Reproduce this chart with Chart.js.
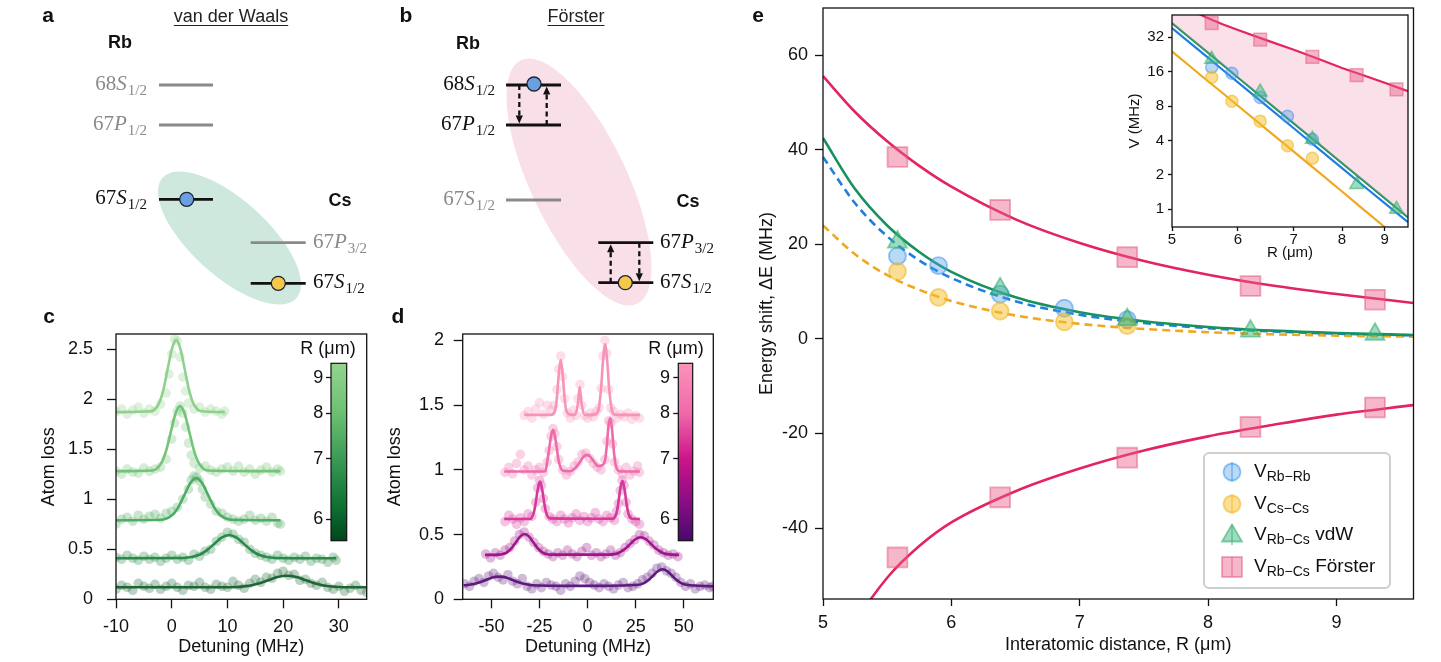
<!DOCTYPE html>
<html>
<head>
<meta charset="utf-8">
<script src="https://cdn.jsdelivr.net/npm/chart.js@4.4.1/dist/chart.umd.min.js"></script>
<style>
  html, body { margin:0; padding:0; background:#fff; }
  #wrap { position:relative; width:1441px; height:662px; overflow:hidden; background:#fff;
          font-family:'Liberation Sans', Arial, Helvetica, sans-serif; color:#111; }
  #wrap canvas { position:absolute; }
  .t { position:absolute; white-space:nowrap; line-height:1; }
  .panel { font-weight:bold; font-size:21px; }
  .head { font-size:18px; text-decoration:underline; text-decoration-thickness:1px; text-underline-offset:3px; color:#222; }
  .atom { font-weight:bold; font-size:18px; }
  .lvl { font-family:'Liberation Serif', 'DejaVu Serif', serif; font-size:21px; }
  .lvl i { font-style:italic; }
  .lvl .s { font-size:15px; position:relative; top:5px; margin-left:1px; }
  .gray { color:#8a8a8a; }
  .cbt { font-size:18px; }
  .leg { font-size:19px; }
  .leg .s { font-size:14px; position:relative; top:4px; }
  #legbox { position:absolute; left:1203px; top:452px; width:184px; height:133px; border:2px solid #cfcfcf;
            border-radius:6px; background:rgba(255,255,255,0.85); }
</style>
</head>
<body>
<div id="wrap"><div id="legbox"></div></div>
<script>
// ================= DATA =================
// ---- panel e (energy shifts) ----
const R_HOMO = [5.58, 5.9, 6.38, 6.88, 7.37];
const V_RBRB = [17.5, 15.5, 9.5, 6.5, 4.1];
const V_CSCS = [14.3, 8.8, 5.9, 3.6, 2.8];
const R_HETERO = [5.58, 6.38, 7.37, 8.33, 9.3];
const V_VDW = [20.5, 10.6, 4.1, 1.65, 1.0];
const E_FORSTER_UP = [38.5, 27.3, 17.3, 11.2, 8.3];
const E_FORSTER_DOWN = [-46.2, -33.5, -25.1, -18.6, -14.5];
const V_FORSTER = [42.5, 30.5, 21.5, 14.9, 11.2];
const FIT_R = [5, 5.25, 5.5, 5.75, 6, 6.5, 7, 7.5, 8, 8.5, 9, 9.6];
const FIT_RBRB = [38.5, 28.7, 21.7, 16.6, 12.9, 7.98, 5.11, 3.38, 2.29, 1.59, 1.13, 0.77];
const FIT_CSCS = [24, 17.9, 13.5, 10.4, 8.04, 4.97, 3.19, 2.11, 1.43, 0.99, 0.70, 0.48];
const FIT_VDW = [42.5, 31.7, 24.0, 18.4, 14.2, 8.8, 5.64, 3.73, 2.53, 1.76, 1.25, 0.85];
const FIT_F_UP = [55.6, 48.0, 41.8, 36.6, 32.2, 25.3, 20.3, 16.5, 13.6, 11.3, 9.5, 7.6];
const FIT_F_DOWN = [-72, -60, -50.5, -43.8, -38.8, -32.2, -27.4, -23.6, -20.6, -18.2, -16.0, -14.0];
const FIT_F_V = [66, 56, 47.5, 41.5, 37, 30, 24.8, 20.6, 17.2, 14.8, 12.8, 10.8];
const E_X_TICKS = [5, 6, 7, 8, 9];
const E_Y_TICKS = [-40, -20, 0, 20, 40, 60];
const INSET_X_TICKS = [5, 6, 7, 8, 9];
const INSET_Y_TICKS = [1, 2, 4, 8, 16, 32];

// ---- panel c (van der Waals spectra) ----
const C1_X = [-10,-9,-8,-7,-6,-5,-4,-3,-2,-1,-0.5,0,0.5,1,1.5,2,2.5,3,4,5,6,7,8,9,9.5];
const C1_Y = [1.87,1.9,1.85,1.89,1.92,1.86,1.9,1.88,1.95,2.06,2.25,2.45,2.6,2.58,2.42,2.22,2.08,1.96,1.9,1.92,1.87,1.9,1.88,1.85,1.88];
const C1_FIT_X = [-10,-3.7,-2.2,-1.45,-0.7,0.05,0.8,1.55,2.3,3.05,3.8,5.3,9.5];
const C1_FIT_Y = [1.87,1.878,1.967,2.104,2.307,2.505,2.59,2.505,2.307,2.104,1.967,1.878,1.87];
const C2_X = [-10,-9,-8,-7,-6,-5,-4,-3,-2,-1,0,0.5,1,1.5,2,2.5,3,3.5,4,5,6,7,8,9,10,11,12,13,14,15,16,17,18,19,19.5];
const C2_Y = [1.28,1.25,1.3,1.27,1.26,1.31,1.28,1.3,1.32,1.4,1.6,1.76,1.88,1.93,1.86,1.72,1.56,1.44,1.36,1.31,1.33,1.29,1.27,1.3,1.32,1.28,1.33,1.27,1.3,1.25,1.29,1.32,1.27,1.3,1.28];
const C2_FIT_X = [-10,-3.45,-1.8,-0.975,-0.15,0.675,1.5,2.325,3.15,3.975,4.8,6.45,19.5];
const C2_FIT_Y = [1.28,1.287,1.368,1.491,1.674,1.854,1.93,1.854,1.674,1.491,1.368,1.287,1.28];
const C3_X = [-10,-9,-8,-7,-6,-5,-4,-3,-2,-1,0,1,2,3,3.5,4,4.5,5,5.5,6,7,8,9,10,11,12,13,14,15,16,17,18,19,19.5];
const C3_Y = [0.75,0.8,0.82,0.78,0.84,0.8,0.83,0.85,0.81,0.86,0.88,0.92,1.0,1.1,1.19,1.23,1.22,1.18,1.1,1.02,0.95,0.88,0.86,0.82,0.8,0.78,0.8,0.84,0.79,0.81,0.78,0.82,0.76,0.75];
const C3_FIT_X = [-10,-1.9,0.2,1.25,2.3,3.35,4.4,5.45,6.5,7.55,8.6,10.7,19.5];
const C3_FIT_Y = [0.79,0.795,0.847,0.926,1.045,1.161,1.21,1.161,1.045,0.926,0.847,0.795,0.79];
const C4_X = [-10,-9,-8,-7,-6,-5,-4,-3,-2,-1,0,1,2,3,4,5,6,7,8,9,10,11,12,13,14,15,16,17,18,19,20,21,22,23,24,25,26,27,28,29,29.5];
const C4_Y = [0.42,0.4,0.44,0.41,0.39,0.43,0.4,0.42,0.38,0.41,0.44,0.4,0.42,0.39,0.45,0.43,0.48,0.5,0.58,0.62,0.67,0.65,0.6,0.57,0.5,0.46,0.44,0.42,0.4,0.44,0.41,0.39,0.42,0.4,0.43,0.38,0.41,0.4,0.37,0.42,0.39];
const C4_FIT_X = [-10,2.14,4.86,6.22,7.58,8.94,10.3,11.66,13.02,14.38,15.74,18.46,29.5];
const C4_FIT_Y = [0.41,0.413,0.442,0.486,0.551,0.616,0.643,0.616,0.551,0.486,0.442,0.413,0.41];
const C5_X = [-10,-9,-8,-7,-6,-5,-4,-3,-2,-1,0,1,2,3,4,5,6,7,8,9,10,11,12,13,14,15,16,17,18,19,20,21,22,23,24,25,26,27,28,29,30,31,32,33,34,35];
const C5_Y = [0.1,0.14,0.12,0.09,0.16,0.13,0.11,0.15,0.1,0.13,0.16,0.12,0.09,0.14,0.13,0.17,0.12,0.1,0.15,0.13,0.12,0.18,0.14,0.11,0.16,0.2,0.17,0.22,0.21,0.26,0.28,0.24,0.25,0.19,0.2,0.16,0.14,0.17,0.12,0.1,0.13,0.08,0.11,0.14,0.09,0.07];
const C5_FIT_X = [-10,10.5,13.9,15.6,17.3,19.0,20.7,22.4,24.1,25.8,27.5,30.9,35];
const C5_FIT_Y = [0.12,0.121,0.136,0.157,0.19,0.222,0.235,0.222,0.19,0.157,0.136,0.121,0.12];
const C_X_TICKS = [-10, 0, 10, 20, 30];
const C_Y_TICKS = [0, 0.5, 1, 1.5, 2, 2.5];

// ---- panel d (Förster spectra) ----
const D1_X = [-33,-31,-29,-27,-25,-23,-21,-19,-17.5,-16,-15,-14,-13,-12,-10.5,-9,-7.5,-6,-5,-4,-3,-1.5,0,1.5,3,4.5,6,7,8,9,10,11,12,13.5,15,17,19,21,23,25,27];
const D1_Y = [1.42,1.45,1.40,1.47,1.52,1.43,1.50,1.46,1.50,1.62,1.78,1.88,1.72,1.55,1.44,1.40,1.46,1.42,1.55,1.66,1.50,1.42,1.40,1.44,1.41,1.45,1.48,1.63,1.88,2.0,1.9,1.62,1.48,1.45,1.40,1.43,1.41,1.44,1.39,1.42,1.40];
const D1_FIT_X = [-33,-19,-17,-16,-15,-14,-13,-12,-11,-9,-6.5,-5,-4.1,-3.2,-1.5,3,5.5,7,8,9.1,10.2,11.2,13,15,27.2];
const D1_FIT_Y = [1.425,1.425,1.455,1.555,1.741,1.85,1.741,1.555,1.455,1.427,1.425,1.519,1.64,1.519,1.425,1.425,1.455,1.629,1.842,1.97,1.842,1.629,1.443,1.425,1.425];
const D2_X = [-43,-41,-39,-37,-35,-33,-31,-29,-27,-25,-23,-21,-20,-19,-18,-17,-16,-15,-13,-11,-9,-7,-5,-3,-1,1,3,5,7,9,10,11,12,13,14,16,18,20,22,24,26,27];
const D2_Y = [0.98,1.02,0.97,1.05,1.12,1.0,1.03,0.96,1.0,1.02,0.98,1.06,1.15,1.26,1.32,1.28,1.18,1.08,1.0,0.96,0.99,1.03,1.06,1.12,1.13,1.09,1.05,1.02,1.0,1.08,1.22,1.38,1.36,1.2,1.06,1.0,0.97,1.02,0.96,0.99,1.03,0.98];
const D2_FIT_X = [-43.4,-25,-22,-21,-20,-19,-18,-17,-16,-15,-13,-9,-6,-4,-2,-0.3,1.5,3.5,5.5,8,9,10,10.8,11.7,12.6,13.5,14.5,16.5,27.2];
const D2_FIT_Y = [0.987,0.987,0.99,1.067,1.162,1.264,1.31,1.264,1.162,1.067,0.995,0.99,1.022,1.061,1.103,1.116,1.101,1.059,1.03,1.04,1.07,1.19,1.33,1.40,1.33,1.17,1.045,0.99,0.987];
const D3_X = [-43,-41,-39,-37,-35,-33,-31,-29,-27,-26,-25,-24,-23,-22,-20,-18,-16,-14,-12,-10,-8,-6,-4,-2,0,2,4,6,8,10,12,14,15,16,17,18,19,20,21,23,25,27];
const D3_Y = [0.6,0.65,0.62,0.58,0.63,0.6,0.66,0.64,0.75,0.86,0.92,0.88,0.78,0.7,0.64,0.62,0.6,0.65,0.62,0.59,0.63,0.66,0.61,0.64,0.6,0.63,0.67,0.62,0.6,0.65,0.63,0.61,0.68,0.74,0.84,0.92,0.88,0.75,0.66,0.62,0.6,0.58];
const D3_FIT_X = [-43.4,-30,-28,-27,-26,-24.8,-23.6,-22.6,-21.6,-19.5,13,14.8,15.8,17,18.1,19.2,20.4,21.4,23.2,27.2];
const D3_FIT_Y = [0.62,0.62,0.67,0.746,0.846,0.91,0.846,0.746,0.67,0.625,0.622,0.655,0.725,0.853,0.915,0.853,0.725,0.655,0.622,0.62];
const D4_X = [-53,-50.5,-48,-45.5,-43,-40.5,-38,-35.5,-33,-30.5,-28,-25.5,-23,-20.5,-18,-15.5,-13,-10.5,-8,-5.5,-3,-0.5,2,4.5,7,9.5,12,14.5,17,19.5,22,24.5,27,29.5,32,34.5,37,39.5,42,44.5,47];
const D4_Y = [0.35,0.32,0.36,0.34,0.38,0.40,0.45,0.5,0.52,0.48,0.44,0.4,0.37,0.35,0.33,0.36,0.34,0.38,0.35,0.33,0.37,0.4,0.34,0.36,0.33,0.35,0.38,0.34,0.36,0.4,0.43,0.46,0.5,0.49,0.45,0.42,0.38,0.36,0.34,0.35,0.33];
const D4_FIT_X = [-53.4,-46.3,-44.05,-41.8,-39.55,-37.3,-35.05,-32.8,-30.55,-28.3,-26.05,-23.8,-21.55,-19.3,11.1,13.85,16.6,19.35,22.1,24.85,27.6,30.35,33.1,35.85,38.6,41.35,44.1,47.6];
const D4_FIT_Y = [0.343,0.345,0.350,0.365,0.396,0.441,0.486,0.505,0.486,0.441,0.396,0.365,0.350,0.345,0.345,0.349,0.362,0.388,0.426,0.464,0.48,0.464,0.426,0.388,0.362,0.349,0.345,0.343];
const D5_X = [-64,-61.5,-59,-56.5,-54,-51.5,-49,-46.5,-44,-41.5,-39,-36.5,-34,-31.5,-29,-26.5,-24,-21.5,-19,-16.5,-14,-11.5,-9,-6.5,-4,-1.5,1,3.5,6,8.5,11,13.5,16,18.5,21,23.5,26,28.5,31,33.5,36,38.5,41,43.5,46,48.5,51,53.5,56,58.5,61,63.5,65];
const D5_Y = [0.12,0.1,0.14,0.16,0.13,0.18,0.2,0.17,0.15,0.19,0.14,0.12,0.16,0.1,0.08,0.12,0.09,0.13,0.11,0.1,0.07,0.12,0.1,0.14,0.18,0.16,0.13,0.11,0.09,0.12,0.1,0.08,0.11,0.13,0.09,0.1,0.12,0.15,0.17,0.2,0.24,0.25,0.22,0.2,0.17,0.13,0.1,0.12,0.08,0.1,0.11,0.09,0.1];
const D5_FIT_X = [-64.5,-63.5,-60,-56.5,-53,-49.5,-46,-42.5,-39,-35.5,-32,-28.5,0,26.5,29,31.5,34,36.5,39,41.5,44,46.5,49,51.5,65.2];
const D5_FIT_Y = [0.108,0.109,0.116,0.129,0.149,0.168,0.175,0.168,0.149,0.129,0.116,0.109,0.104,0.112,0.123,0.147,0.182,0.217,0.232,0.217,0.182,0.147,0.123,0.112,0.1];
const D_X_TICKS = [-50, -25, 0, 25, 50];
const D_Y_TICKS = [0, 0.5, 1, 1.5, 2];

// ---- colour bars (R in µm) ----
const CB_TICKS = [6, 7, 8, 9];
const CB_R_MIN = 5.71, CB_R_MAX = 9.49;

// ---- level schemes (a, b), diagram units ----
const A_RB_E = [8.5, 12.5, 19.93], A_CS_E = [24.27, 28.33];
const B_RB_E = [8.5, 12.5, 20.0],  B_CS_E = [24.27, 28.27];

// ================= HELPERS =================
Chart.defaults.font.family = "'Liberation Sans', Arial, Helvetica, sans-serif";
Chart.defaults.color = '#111';
Chart.defaults.animation = false;
Chart.defaults.plugins.legend.display = false;
Chart.defaults.plugins.tooltip.enabled = false;
Chart.defaults.layout.autoPadding = false;

const wrap = document.getElementById('wrap');
function addCanvas(left, top, w, h) {
  const c = document.createElement('canvas');
  c.width = w; c.height = h;
  c.style.left = left + 'px'; c.style.top = top + 'px';
  c.style.width = w + 'px'; c.style.height = h + 'px';
  wrap.appendChild(c);
  return c;
}
function addText(html, x, y, anchor, cls) {
  const d = document.createElement('div');
  d.className = 't ' + (cls || '');
  d.innerHTML = html;
  d.style.left = x + 'px'; d.style.top = y + 'px';
  const tx = anchor === 'left' ? '0' : anchor === 'right' ? '-100%' : '-50%';
  d.style.transform = 'translate(' + tx + ', -50%)';
  wrap.appendChild(d);
  return d;
}
const pts = (xs, ys) => xs.map((x, i) => ({ x: x, y: ys[i] }));
function rgba(hex, a) {
  const n = parseInt(hex.slice(1), 16);
  return 'rgba(' + (n >> 16 & 255) + ',' + (n >> 8 & 255) + ',' + (n & 255) + ',' + a + ')';
}
const fixW = w => s => { s.width = w; s.paddingTop = 0; s.paddingBottom = 0; };
const fixH = h => s => { s.height = h; s.paddingLeft = 0; s.paddingRight = 0; };
const setTicks = arr => s => { s.ticks = arr.map(v => ({ value: v })); };
const gridCfg = len => ({ display: true, drawOnChartArea: false, drawTicks: true, tickLength: len,
                          tickColor: '#111', tickWidth: 1.3, color: '#111' });
const framePlugin = {
  id: 'frame',
  beforeDraw(chart, args, opts) {
    if (!opts || !opts.white) return;
    const { ctx, chartArea: a } = chart;
    ctx.save(); ctx.fillStyle = '#fff';
    ctx.fillRect(a.left, a.top, a.right - a.left, a.bottom - a.top); ctx.restore();
  },
  afterDraw(chart, args, opts) {
    if (!opts || !opts.on) return;
    const { ctx, chartArea: a } = chart;
    ctx.save(); ctx.strokeStyle = '#111'; ctx.lineWidth = opts.lw || 1.3;
    ctx.strokeRect(a.left, a.top, a.right - a.left, a.bottom - a.top); ctx.restore();
  }
};

// ================= PANELS a, b (level schemes) =================
(function () {
  const cv = addCanvas(0, 0, 740, 310);
  const GRAY = '#8a8a8a', BLACK = '#111';
  const ds = [];
  ds.push({ data: [{ x: 18.67, y: A_RB_E[2] }, { x: 53.4, y: B_RB_E[0] - 0.1 }], pointRadius: 7,
            backgroundColor: '#6b9fe0', borderColor: '#1b2433', borderWidth: 1.3, showLine: false });
  ds.push({ data: [{ x: 27.83, y: A_CS_E[1] }, { x: 62.53, y: B_CS_E[1] }], pointRadius: 7,
            backgroundColor: '#f6c84a', borderColor: '#1b2433', borderWidth: 1.3, showLine: false });
  const lvl = (x0, x1, y, col) => ds.push({ data: [{ x: x0, y: y }, { x: x1, y: y }], showLine: true,
                                            borderColor: col, borderWidth: 2.8, pointRadius: 0 });
  lvl(15.9, 21.3, A_RB_E[0], GRAY); lvl(15.9, 21.3, A_RB_E[1], GRAY); lvl(15.9, 21.3, A_RB_E[2], BLACK);
  lvl(25.07, 30.57, A_CS_E[0], GRAY); lvl(25.07, 30.57, A_CS_E[1], BLACK);
  lvl(50.6, 56.1, B_RB_E[0], BLACK); lvl(50.6, 56.1, B_RB_E[1], BLACK); lvl(50.6, 56.1, B_RB_E[2], GRAY);
  lvl(59.83, 65.33, B_CS_E[0], BLACK); lvl(59.83, 65.33, B_CS_E[1], BLACK);

  const ellipses = [
    { cx: 22.95, cy: 23.8, a: 9.0, b: 3.8, rot: 42, col: '#cee8dd' },
    { cx: 57.9, cy: 18.2, a: 13.5, b: 4.8, rot: 64.5, col: '#f9dfe7' }
  ];
  const arrows = [
    [51.93, B_RB_E[0], B_RB_E[1]], [54.67, B_RB_E[1], B_RB_E[0]],
    [61.07, B_CS_E[1], B_CS_E[0]], [63.93, B_CS_E[0], B_CS_E[1]]
  ];
  const deco = {
    id: 'deco',
    beforeDatasetsDraw(chart) {
      const { ctx, scales: { x, y } } = chart;
      ctx.save();
      ellipses.forEach(e => {
        const cx = x.getPixelForValue(e.cx), cy = y.getPixelForValue(e.cy);
        const rx = x.getPixelForValue(e.a) - x.getPixelForValue(0);
        const ry = x.getPixelForValue(e.b) - x.getPixelForValue(0);
        ctx.beginPath(); ctx.ellipse(cx, cy, rx, ry, e.rot * Math.PI / 180, 0, 2 * Math.PI);
        ctx.fillStyle = e.col; ctx.fill();
      });
      ctx.restore();
    },
    afterDatasetsDraw(chart) {
      const { ctx, scales: { x, y } } = chart;
      ctx.save();
      arrows.forEach(a => {
        const px = x.getPixelForValue(a[0]);
        const y0 = y.getPixelForValue(a[1]), y1 = y.getPixelForValue(a[2]);
        const dir = Math.sign(y1 - y0);
        const tip = y1 - dir * 1.5, base = tip - dir * 8;
        ctx.setLineDash([5, 3.5]); ctx.lineWidth = 2.3; ctx.strokeStyle = '#111';
        ctx.beginPath(); ctx.moveTo(px, y0); ctx.lineTo(px, base); ctx.stroke();
        ctx.setLineDash([]); ctx.fillStyle = '#111';
        ctx.beginPath(); ctx.moveTo(px, tip); ctx.lineTo(px - 3.6, base); ctx.lineTo(px + 3.6, base);
        ctx.closePath(); ctx.fill();
      });
      ctx.restore();
    }
  };
  new Chart(cv, {
    type: 'scatter', data: { datasets: ds },
    options: { responsive: false, layout: { padding: 0 },
      scales: { x: { type: 'linear', min: 0, max: 74, display: false },
                y: { type: 'linear', min: 0, max: 31, reverse: true, display: false } } },
    plugins: [deco]
  });
  const lv = (n, l, s) => n + '<i>' + l + '</i><span class="s">' + s + '</span>';
  addText('a', 48, 14, 'center', 'panel');
  addText('b', 406, 14, 'center', 'panel');
  addText('van der Waals', 231, 16, 'center', 'head');
  addText('Förster', 576, 16, 'center', 'head');
  addText('Rb', 120, 42, 'center', 'atom');
  addText('Rb', 468, 43, 'center', 'atom');
  addText('Cs', 340, 200, 'center', 'atom');
  addText('Cs', 688, 201, 'center', 'atom');
  addText(lv('68', 'S', '1/2'), 147, 83, 'right', 'lvl gray');
  addText(lv('67', 'P', '1/2'), 147, 123, 'right', 'lvl gray');
  addText(lv('67', 'S', '1/2'), 147, 197, 'right', 'lvl');
  addText(lv('67', 'P', '3/2'), 313, 241, 'left', 'lvl gray');
  addText(lv('67', 'S', '1/2'), 313, 281, 'left', 'lvl');
  addText(lv('68', 'S', '1/2'), 495, 83, 'right', 'lvl');
  addText(lv('67', 'P', '1/2'), 495, 123, 'right', 'lvl');
  addText(lv('67', 'S', '1/2'), 495, 198, 'right', 'lvl gray');
  addText(lv('67', 'P', '3/2'), 660, 241, 'left', 'lvl');
  addText(lv('67', 'S', '1/2'), 660, 281, 'left', 'lvl');
})();

// ================= PANELS c, d (spectra) =================
function spectrum(box, cfg) {
  const cv = addCanvas(box.left, box.top, box.w, box.h);
  const ds = [];
  cfg.fits.forEach((f, i) => ds.push({ data: pts(f[0], f[1]), showLine: true, pointRadius: 0,
    borderColor: cfg.colors[i], borderWidth: 2.6, cubicInterpolationMode: 'monotone', order: 0 }));
  cfg.scans.forEach((s, i) => ds.push({ data: pts(s[0], s[1]), showLine: false, pointRadius: 4.8,
    backgroundColor: rgba(cfg.colors[i], 0.3), borderColor: rgba(cfg.colors[i], 0.3), borderWidth: 0, order: 1 }));
  const font = { size: 18 };
  new Chart(cv, {
    type: 'scatter', data: { datasets: ds },
    options: {
      responsive: false,
      layout: { padding: { left: 0, right: box.pr, top: box.pt, bottom: 0 } },
      plugins: { frame: { on: true } },
      scales: {
        x: { type: 'linear', min: cfg.xmin, max: cfg.xmax, afterBuildTicks: setTicks(cfg.xticks),
             afterFit: fixH(box.xh), grid: gridCfg(9), border: { display: false },
             ticks: { font: font, padding: 8, maxRotation: 0, autoSkip: false, callback: v => String(v) },
             title: { display: true, text: 'Detuning (MHz)', font: font, padding: { top: 0, bottom: 4 } } },
        y: { type: 'linear', min: 0, max: cfg.ymax, afterBuildTicks: setTicks(cfg.yticks),
             afterFit: fixW(box.yw), grid: gridCfg(9), border: { display: false },
             ticks: { font: font, padding: box.ypad, autoSkip: false, callback: v => String(v) },
             title: { display: true, text: 'Atom loss', font: font, padding: { top: box.ytp, bottom: 0 } } }
      }
    },
    plugins: [framePlugin]
  });
}
function colorbar(box, stops) {
  const cv = addCanvas(box.left, box.top, box.w, box.h);
  const grad = {
    id: 'grad',
    afterDraw(chart) {
      const { ctx, chartArea: a } = chart;
      const g = ctx.createLinearGradient(0, a.top, 0, a.bottom);
      stops.forEach(s => g.addColorStop(s[0], s[1]));
      ctx.save(); ctx.fillStyle = g; ctx.fillRect(a.left, a.top, a.right - a.left, a.bottom - a.top);
      ctx.strokeStyle = '#111'; ctx.lineWidth = 1.2;
      ctx.strokeRect(a.left, a.top, a.right - a.left, a.bottom - a.top); ctx.restore();
    }
  };
  new Chart(cv, {
    type: 'scatter', data: { datasets: [] },
    options: {
      responsive: false,
      layout: { padding: { left: 0, right: box.pr, top: box.pt, bottom: box.pb } },
      scales: {
        x: { type: 'linear', display: false, min: 0, max: 1 },
        y: { type: 'linear', min: 1 / CB_R_MAX, max: 1 / CB_R_MIN, reverse: true,
             afterBuildTicks: s => { s.ticks = CB_TICKS.map(r => ({ value: 1 / r })); },
             afterFit: fixW(box.yw), grid: gridCfg(5), border: { display: false },
             ticks: { font: { size: 18 }, padding: box.ypad, autoSkip: false, callback: v => String(Math.round(1 / v)) } }
      }
    },
    plugins: [grad]
  });
}

const C_COLORS = ['#8fd18c', '#74c478', '#4ead63', '#2a8a4a', '#1e6636'];
spectrum({ left: 30, top: 320, w: 345, h: 342, pr: 8.3, pt: 14, xh: 62.7, yw: 86, ypad: 14, ytp: 8 }, {
  xmin: -10, xmax: 35, ymax: 2.65, xticks: C_X_TICKS, yticks: C_Y_TICKS, colors: C_COLORS,
  fits: [[C1_FIT_X, C1_FIT_Y], [C2_FIT_X, C2_FIT_Y], [C3_FIT_X, C3_FIT_Y], [C4_FIT_X, C4_FIT_Y], [C5_FIT_X, C5_FIT_Y]],
  scans: [[C1_X, C1_Y], [C2_X, C2_Y], [C3_X, C3_Y], [C4_X, C4_Y], [C5_X, C5_Y]]
});
const D_COLORS = ['#f793b9', '#f06aa9', '#d8379b', '#a0168a', '#5f1a7e'];
spectrum({ left: 377, top: 320, w: 345, h: 342, pr: 8.7, pt: 14, xh: 62.7, yw: 85.7, ypad: 9.7, ytp: 7.7 }, {
  xmin: -65, xmax: 65.4, ymax: 2.05, xticks: D_X_TICKS, yticks: D_Y_TICKS, colors: D_COLORS,
  fits: [[D1_FIT_X, D1_FIT_Y], [D2_FIT_X, D2_FIT_Y], [D3_FIT_X, D3_FIT_Y], [D4_FIT_X, D4_FIT_Y], [D5_FIT_X, D5_FIT_Y]],
  scans: [[D1_X, D1_Y], [D2_X, D2_Y], [D3_X, D3_Y], [D4_X, D4_Y], [D5_X, D5_Y]]
});
colorbar({ left: 300, top: 355, w: 50, h: 190, pr: 3.3, pt: 8.3, pb: 4.3, yw: 31, ypad: 2.7 },
  [[0, '#93d48f'], [0.28, '#6cc072'], [0.54, '#3a9a55'], [0.8, '#0f7233'], [1, '#00461c']]);
colorbar({ left: 647, top: 355, w: 50, h: 190, pr: 4.3, pt: 8.3, pb: 4.3, yw: 31.3, ypad: 3.3 },
  [[0, '#fa93bb'], [0.28, '#f069aa'], [0.54, '#cc1489'], [0.78, '#8a0d84'], [1, '#470a6e']]);
addText('c', 49, 315, 'center', 'panel');
addText('d', 398, 315, 'center', 'panel');
addText('R (μm)', 328, 348, 'center', 'cbt');
addText('R (μm)', 676, 348, 'center', 'cbt');

// ================= PANEL e =================
const BLUE = '#1f7fe0', YEL = '#f0a820', GRN = '#17925e', PINK = '#e3245e';
const MK = {
  blue: { bg: 'rgba(80,160,235,0.40)', bd: 'rgba(60,150,235,0.55)' },
  yel:  { bg: 'rgba(245,190,40,0.50)', bd: 'rgba(240,180,30,0.55)' },
  grn:  { bg: 'rgba(60,185,125,0.50)', bd: 'rgba(50,170,110,0.55)' },
  pink: { bg: 'rgba(232,95,135,0.45)', bd: 'rgba(225,85,125,0.50)' }
};
(function () {
  const cv = addCanvas(740, 0, 701, 662);
  const line = (ys, col, dash) => ({ data: pts(FIT_R, ys), showLine: true, pointRadius: 0, borderColor: col,
    borderWidth: 2.6, borderDash: dash || [], cubicInterpolationMode: 'monotone', order: 2 });
  const mark = (xs, ys, m, style, r) => ({ data: pts(xs, ys), showLine: false, pointStyle: style, pointRadius: r,
    backgroundColor: m.bg, borderColor: m.bd, borderWidth: 1.8, order: 1 });
  const font = { size: 18 };
  new Chart(cv, {
    type: 'scatter',
    data: { datasets: [
      line(FIT_F_UP, PINK), line(FIT_F_DOWN, PINK), line(FIT_VDW, GRN),
      line(FIT_RBRB, BLUE, [8, 5]), line(FIT_CSCS, YEL, [8, 5]),
      mark(R_HETERO, E_FORSTER_UP, MK.pink, 'rect', 14), mark(R_HETERO, E_FORSTER_DOWN, MK.pink, 'rect', 14),
      mark(R_HETERO, V_VDW, MK.grn, 'triangle', 11),
      mark(R_HOMO, V_CSCS, MK.yel, 'circle', 8.5), mark(R_HOMO, V_RBRB, MK.blue, 'circle', 8.5)
    ] },
    options: {
      responsive: false,
      layout: { padding: { left: 0, right: 27.5, top: 8, bottom: 0 } },
      plugins: { frame: { on: true } },
      scales: {
        x: { type: 'linear', min: 5, max: 9.6, afterBuildTicks: setTicks(E_X_TICKS), afterFit: fixH(63),
             grid: gridCfg(7), border: { display: false },
             ticks: { font: font, padding: 6, maxRotation: 0, autoSkip: false, callback: v => String(v) },
             title: { display: true, text: 'Interatomic distance, R (μm)', font: font, padding: { top: 0, bottom: 6 } } },
        y: { type: 'linear', min: -55, max: 70, afterBuildTicks: setTicks(E_Y_TICKS), afterFit: fixW(83),
             grid: gridCfg(8), border: { display: false },
             ticks: { font: font, padding: 7, autoSkip: false, callback: v => String(v) },
             title: { display: true, text: 'Energy shift, ΔE (MHz)', font: font, padding: { top: 16, bottom: 0 } } }
      }
    },
    plugins: [framePlugin]
  });
})();

// inset
(function () {
  const cv = addCanvas(1110, 0, 331, 280);
  const line = (ys, col, extra) => Object.assign({ data: pts(FIT_R, ys), showLine: true, pointRadius: 0,
    borderColor: col, borderWidth: 2.2, order: 2 }, extra || {});
  const mark = (xs, ys, m, style, r) => ({ data: pts(xs, ys), showLine: false, pointStyle: style, pointRadius: r,
    backgroundColor: m.bg, borderColor: m.bd, borderWidth: 1.5, order: 1 });
  const font = { size: 15 };
  new Chart(cv, {
    type: 'scatter',
    data: { datasets: [
      line(FIT_F_V, PINK, { fill: 1, backgroundColor: 'rgba(240,160,188,0.32)' }),
      line(FIT_VDW, GRN),
      line(FIT_RBRB, BLUE),
      line(FIT_CSCS, YEL),
      mark(R_HETERO, V_FORSTER, MK.pink, 'rect', 9),
      mark(R_HETERO, V_VDW, MK.grn, 'triangle', 8),
      mark(R_HOMO, V_CSCS, MK.yel, 'circle', 6),
      mark(R_HOMO, V_RBRB, MK.blue, 'circle', 6)
    ] },
    options: {
      responsive: false,
      layout: { padding: { left: 0, right: 33, top: 15, bottom: 0 } },
      plugins: { frame: { on: true, white: true }, filler: { propagate: false } },
      scales: {
        x: { type: 'logarithmic', min: 5, max: 9.6, afterBuildTicks: setTicks(INSET_X_TICKS), afterFit: fixH(53),
             grid: gridCfg(4), border: { display: false },
             ticks: { font: font, padding: 0, maxRotation: 0, autoSkip: false, callback: v => String(v) },
             title: { display: true, text: 'R (μm)', font: font, padding: { top: 0, bottom: 18 } } },
        y: { type: 'logarithmic', min: 0.7, max: 50, afterBuildTicks: setTicks(INSET_Y_TICKS), afterFit: fixW(62),
             grid: gridCfg(4), border: { display: false },
             ticks: { font: font, padding: 4, autoSkip: false, callback: v => String(v) },
             title: { display: true, text: 'V (MHz)', font: font, padding: { top: 16, bottom: 0 } } }
      }
    },
    plugins: [framePlugin]
  });
})();

addText('e', 758, 14, 'center', 'panel');

// legend of panel e
(function () {
  const items = [
    { y: 472, html: 'V<span class="s">Rb−Rb</span>', m: MK.blue, shape: 'circle' },
    { y: 503.5, html: 'V<span class="s">Cs−Cs</span>', m: MK.yel, shape: 'circle' },
    { y: 535, html: 'V<span class="s">Rb−Cs</span> vdW', m: MK.grn, shape: 'triangle' },
    { y: 567, html: 'V<span class="s">Rb−Cs</span> Förster', m: MK.pink, shape: 'rect' }
  ];
  items.forEach(it => {
    let shape;
    if (it.shape === 'circle') shape = '<circle cx="12" cy="12" r="8.5" fill="' + it.m.bg + '" stroke="' + it.m.bd + '" stroke-width="1.8"/>';
    else if (it.shape === 'triangle') shape = '<polygon points="12,1.5 22,18.5 2,18.5" fill="' + it.m.bg + '" stroke="' + it.m.bd + '" stroke-width="1.8"/>';
    else shape = '<rect x="2" y="2" width="20" height="20" fill="' + it.m.bg + '" stroke="' + it.m.bd + '" stroke-width="1.8"/>';
    const bar = '<line x1="12" y1="2" x2="12" y2="22" stroke="' + it.m.bd + '" stroke-width="1.5"/>';
    const d = document.createElement('div');
    d.style.position = 'absolute'; d.style.left = (1231.7 - 12) + 'px'; d.style.top = (it.y - 12) + 'px';
    d.innerHTML = '<svg width="24" height="24" xmlns="http://www.w3.org/2000/svg">' + shape + bar + '</svg>';
    wrap.appendChild(d);
    addText(it.html, 1254, it.y - 2, 'left', 'leg');
  });
})();
</script>
</body>
</html>
